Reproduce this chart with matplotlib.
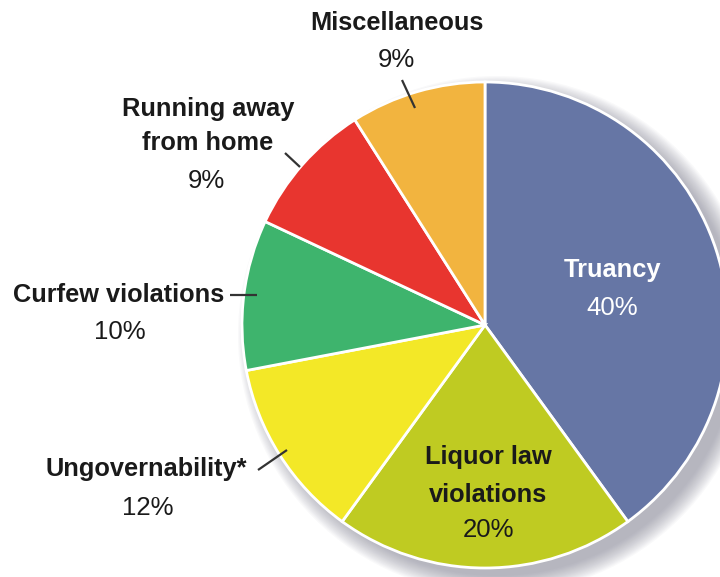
import matplotlib
matplotlib.use("Agg")
import matplotlib.pyplot as plt
from matplotlib.patches import Circle

categories = ["Truancy", "Liquor law violations", "Ungovernability*",
              "Curfew violations", "Running away from home", "Miscellaneous"]
values = [40, 20, 12, 10, 9, 9]
colors = ["#6676A5", "#BFCB22", "#F3E827", "#3EB46D", "#E8352F", "#F2B43F"]

W, H = 720, 577
fig = plt.figure(figsize=(W / 100, H / 100), dpi=100)
ax = fig.add_axes([0, 0, 1, 1])

cx, cy, r = 485, H - 325, 243

# soft shadow
for k in range(16):
    ax.add_patch(Circle((cx + 12, cy - 10), r + 16 - k * 1.2, color="#7a7a8c",
                        alpha=0.045, lw=0, zorder=0))

ax.pie(values, colors=colors, startangle=90, counterclock=False,
       center=(cx, cy), radius=r, frame=True,
       wedgeprops=dict(edgecolor="white", linewidth=2, antialiased=True))
ax.set_xlim(0, W)
ax.set_ylim(0, H)
ax.set_aspect("equal")
ax.axis("off")

bold_fam = ["Liberation Sans Narrow", "Liberation Sans"]
norm_fam = ["Liberation Sans Narrow", "Liberation Sans"]
BS, NS = 18.3, 18.5

def T(x, y, s, bold=True, color="#1a1a1a"):
    ax.text(x, H - y, s, ha="center", va="center", color=color,
            fontsize=BS if bold else NS, fontweight="bold" if bold else "normal",
            family=bold_fam if bold else norm_fam, zorder=5)

def L(x1, y1, x2, y2):
    ax.plot([x1, x2], [H - y1, H - y2], color="#333333", lw=1.6,
            solid_capstyle="butt", zorder=5)

pct = [f"{v}%" for v in values]

# Miscellaneous
T(397, 23, "Miscellaneous")
T(396, 60, pct[5], bold=False)
L(402, 80, 415, 108)

# Running away from home
T(208, 109, "Running away")
T(208, 143, "from home")
T(206, 181, pct[4], bold=False)
L(285, 153, 300, 167)

# Curfew violations
T(119, 295, "Curfew violations")
T(120, 332, pct[3], bold=False)
L(230, 295, 257, 295)

# Ungovernability
T(146, 469, "Ungovernability*")
T(148, 508, pct[2], bold=False)
L(258, 470, 287, 450)

# Truancy
T(612, 270, "Truancy", color="white")
T(612, 308, pct[0], bold=False, color="white")

# Liquor law violations
T(488, 457, "Liquor law")
T(488, 495, "violations")
T(488, 530, pct[1], bold=False)

fig.savefig("out.png", dpi=100, facecolor="white")
